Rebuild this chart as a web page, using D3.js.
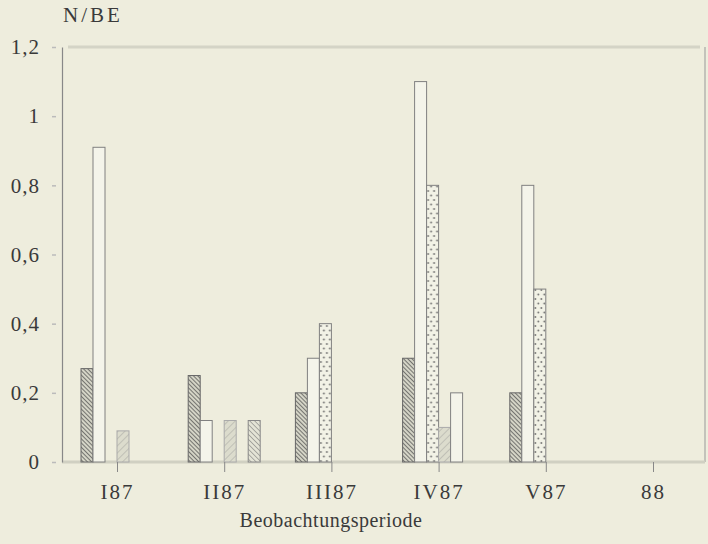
<!DOCTYPE html>
<html>
<head>
<meta charset="utf-8">
<script src="https://cdn.jsdelivr.net/npm/d3@7"></script>
<style>
  body { margin: 0; background: #eeeddd; }
  svg { display: block; }
  text { font-family: "Liberation Serif", "Times New Roman", serif; fill: #3a3a3a; }
</style>
</head>
<body>
<div id="chart"></div>
<script>
// data
var categories = ["I87", "II87", "III87", "IV87", "V87", "88"];
var seriesKeys = ["s1", "s2", "s3", "s4", "s5", "s6"];
var s1 = [0.27, 0.25, 0.2, 0.3, 0.2, 0];
var s2 = [0.91, 0.12, 0.3, 1.1, 0.8, 0];
var s3 = [0, 0, 0.4, 0.8, 0.5, 0];
var s4 = [0.09, 0.12, 0, 0.1, 0, 0];
var s5 = [0, 0, 0, 0.2, 0, 0];
var s6 = [0, 0.12, 0, 0, 0, 0];
var yTicks = [0, 0.2, 0.4, 0.6, 0.8, 1, 1.2];
var yTitle = "N/BE";
var xTitle = "Beobachtungsperiode";

var seriesValues = {s1: s1, s2: s2, s3: s3, s4: s4, s5: s5, s6: s6};

var width = 708, height = 544;
var margin = {top: 47, left: 62, right: 705, bottom: 462};

var svg = d3.select("#chart")
  .append("svg")
    .attr("width", width)
    .attr("height", height);

svg.append("rect")
  .attr("width", width)
  .attr("height", height)
  .attr("fill", "#eeeddd");

// patterns
var defs = svg.append("defs");

var p1 = defs.append("pattern")
  .attr("id", "hatchDense")
  .attr("patternUnits", "userSpaceOnUse")
  .attr("width", 3).attr("height", 3)
  .attr("patternTransform", "rotate(-45)");
p1.append("rect").attr("width", 3).attr("height", 3).attr("fill", "#d4d4c6");
p1.append("line").attr("x1", 0).attr("y1", 0).attr("x2", 0).attr("y2", 3)
  .attr("stroke", "#4a4a4a").attr("stroke-width", 1.4);

var p6 = defs.append("pattern")
  .attr("id", "hatchMed")
  .attr("patternUnits", "userSpaceOnUse")
  .attr("width", 3.5).attr("height", 3.5)
  .attr("patternTransform", "rotate(-45)");
p6.append("rect").attr("width", 3.5).attr("height", 3.5).attr("fill", "#e4e4d6");
p6.append("line").attr("x1", 0).attr("y1", 0).attr("x2", 0).attr("y2", 3.5)
  .attr("stroke", "#6e6e6e").attr("stroke-width", 1);

var p4 = defs.append("pattern")
  .attr("id", "hatchLight")
  .attr("patternUnits", "userSpaceOnUse")
  .attr("width", 5).attr("height", 5)
  .attr("patternTransform", "rotate(45)");
p4.append("rect").attr("width", 5).attr("height", 5).attr("fill", "#dcdccd");
p4.append("line").attr("x1", 0).attr("y1", 0).attr("x2", 0).attr("y2", 5)
  .attr("stroke", "#a4a4a0").attr("stroke-width", 1);

var p3 = defs.append("pattern")
  .attr("id", "dots")
  .attr("patternUnits", "userSpaceOnUse")
  .attr("width", 6).attr("height", 9);
p3.append("rect").attr("width", 6).attr("height", 9).attr("fill", "#f2f2e6");
p3.append("circle").attr("cx", 1.5).attr("cy", 2).attr("r", 0.9).attr("fill", "#6a6a6a");
p3.append("circle").attr("cx", 4.5).attr("cy", 6.5).attr("r", 0.9).attr("fill", "#6a6a6a");

var fills = {
  s1: "url(#hatchDense)",
  s2: "#f4f4ea",
  s3: "url(#dots)",
  s4: "url(#hatchLight)",
  s5: "#f4f4ea",
  s6: "url(#hatchMed)"
};
var strokes = {s1: "#666", s2: "#808080", s3: "#808080", s4: "#aaa", s5: "#808080", s6: "#888"};

// scales
var x0 = d3.scalePoint()
  .domain(categories)
  .range([117, 653]);

var x1 = d3.scaleBand()
  .domain(seriesKeys)
  .range([-36, 36]);

var y = d3.scaleLinear()
  .domain([0, 1.2])
  .range([margin.bottom, margin.top]);

// frame
svg.append("line")
  .attr("x1", 68).attr("x2", 700)
  .attr("y1", y(1.2)).attr("y2", y(1.2))
  .attr("stroke", "#d4d4c6").attr("stroke-width", 3);

svg.append("line")
  .attr("x1", margin.right).attr("x2", margin.right)
  .attr("y1", y(1.2)).attr("y2", y(0))
  .attr("stroke", "#999").attr("stroke-width", 1);

svg.append("line")
  .attr("x1", margin.left).attr("x2", margin.right)
  .attr("y1", y(0)).attr("y2", y(0))
  .attr("stroke", "#d0d0c2").attr("stroke-width", 3);

// Y axis
var yAxis = svg.append("g")
  .attr("transform", "translate(" + margin.left + ",0)")
  .call(d3.axisLeft(y)
    .tickValues(yTicks)
    .tickSize(0)
    .tickPadding(22)
    .tickFormat(function(d) { return d3.format("~g")(d).replace(".", ","); }));
yAxis.select(".domain").attr("stroke", "#888").attr("stroke-width", 1.2);
yAxis.selectAll(".tick text")
  .style("font-size", "21px")
  .style("letter-spacing", "1px")
  .attr("fill", "#3a3a3a");
yAxis.selectAll(".tick")
  .append("line")
  .attr("x1", -10).attr("x2", -6)
  .attr("stroke", "#bbb").attr("stroke-width", 1.5);

// bars
var groups = svg.selectAll("g.grp")
  .data(categories)
  .enter()
  .append("g")
    .attr("class", "grp")
    .attr("transform", function(d) { return "translate(" + x0(d) + ",0)"; });

groups.selectAll("rect")
  .data(function(c, i) {
    return seriesKeys.map(function(k) { return {key: k, value: seriesValues[k][i]}; })
      .filter(function(d) { return d.value > 0; });
  })
  .enter()
  .append("rect")
    .attr("x", function(d) { return x1(d.key); })
    .attr("y", function(d) { return y(d.value); })
    .attr("width", x1.bandwidth())
    .attr("height", function(d) { return y(0) - y(d.value); })
    .attr("fill", function(d) { return fills[d.key]; })
    .attr("stroke", function(d) { return strokes[d.key]; })
    .attr("stroke-width", 1);

// X axis
var xAxis = svg.append("g")
  .attr("transform", "translate(0," + y(0) + ")")
  .call(d3.axisBottom(x0).tickSize(10).tickPadding(12));
xAxis.select(".domain").remove();
xAxis.selectAll(".tick line").attr("stroke", "#888");
xAxis.selectAll(".tick text")
  .style("font-size", "21px")
  .style("letter-spacing", "2px")
  .attr("fill", "#3a3a3a");

// titles
svg.append("text")
  .attr("x", 63)
  .attr("y", 22)
  .style("font-size", "21px")
  .style("letter-spacing", "3px")
  .text(yTitle);

svg.append("text")
  .attr("x", 331)
  .attr("y", 527)
  .attr("text-anchor", "middle")
  .style("font-size", "20px")
  .style("letter-spacing", "0.5px")
  .text(xTitle);
</script>
</body>
</html>
